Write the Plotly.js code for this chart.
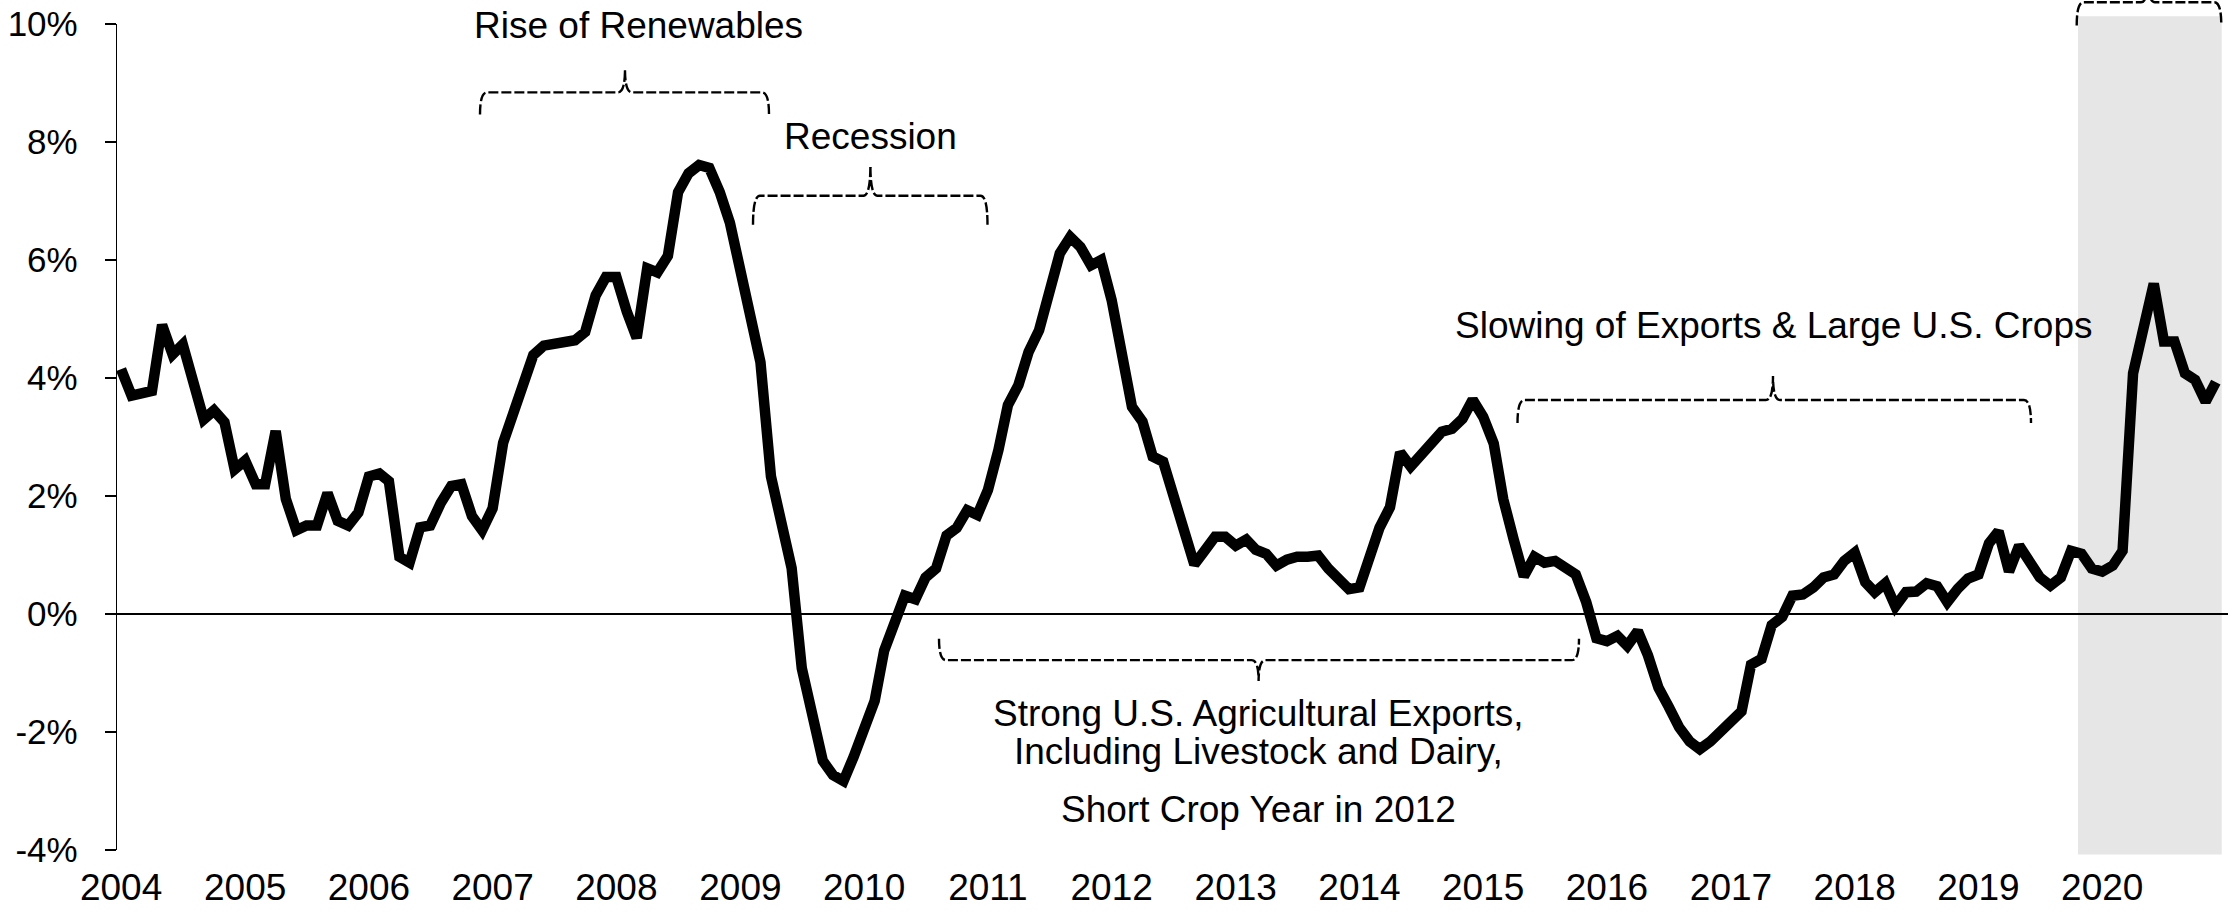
<!DOCTYPE html>
<html>
<head>
<meta charset="utf-8">
<script src="https://cdn.plot.ly/plotly-3.0.1.min.js"></script>
<style>
  html, body { margin: 0; padding: 0; background: #ffffff; }
  #chart { width: 2228px; height: 915px; }
</style>
</head>
<body>
<div id="chart"></div>
<script>
// ---- Data (monthly % change, Jan 2004 - Dec 2020) ----
const firstYear = 2004;
const lastYear = 2020;

const v2004 = [4.15, 3.70, 3.74, 3.78, 4.90, 4.40, 4.57, 3.95, 3.30, 3.45, 3.25, 2.45];
const v2005 = [2.60, 2.20, 2.20, 3.10, 1.95, 1.42, 1.50, 1.50, 2.05, 1.58, 1.50, 1.72];
const v2006 = [2.33, 2.38, 2.25, 0.97, 0.87, 1.47, 1.50, 1.88, 2.17, 2.20, 1.66, 1.42];
const v2007 = [1.79, 2.90, 3.39, 3.89, 4.39, 4.55, 4.57, 4.63, 4.64, 4.78, 5.40, 5.71];
const v2008 = [5.71, 5.12, 4.68, 5.86, 5.79, 6.07, 7.15, 7.47, 7.61, 7.56, 7.15, 6.63];
const v2009 = [5.80, 4.90, 4.27, 2.33, 1.55, 0.78, -0.92, -1.72, -2.49, -2.73, -2.83, -2.42];
const v2010 = [-1.92, -1.47, -0.62, -0.12, 0.31, 0.25, 0.62, 0.77, 1.33, 1.46, 1.76, 1.68];
const v2011 = [2.10, 2.78, 3.54, 3.88, 4.44, 4.81, 5.43, 6.11, 6.39, 6.22, 5.91, 6.00];
const v2012 = [5.32, 4.40, 3.51, 3.26, 2.67, 2.58, 2.00, 1.46, 0.84, 1.07, 1.31, 1.31];
const v2013 = [1.16, 1.26, 1.09, 1.02, 0.82, 0.92, 0.97, 0.97, 0.99, 0.77, 0.57, 0.42];
const v2014 = [0.45, 0.98, 1.46, 1.81, 2.74, 2.50, 2.70, 2.84, 3.09, 3.14, 3.31, 3.63];
const v2015 = [3.34, 2.89, 1.95, 1.26, 0.64, 0.97, 0.87, 0.90, 0.77, 0.67, 0.20, -0.41];
const v2016 = [-0.46, -0.37, -0.54, -0.29, -0.70, -1.25, -1.57, -1.92, -2.16, -2.29, -2.16, -1.99];
const v2017 = [-1.87, -1.65, -0.86, -0.76, -0.19, -0.05, 0.31, 0.33, 0.45, 0.62, 0.67, 0.90];
const v2018 = [1.04, 0.54, 0.37, 0.52, 0.13, 0.37, 0.38, 0.52, 0.47, 0.20, 0.43, 0.60];
const v2019 = [0.67, 1.20, 1.40, 0.72, 1.16, 0.92, 0.62, 0.48, 0.62, 1.07, 1.02, 0.77];
const v2020 = [0.72, 0.82, 1.07, 4.08, 4.85, 5.60, 4.62, 4.62, 4.08, 3.97, 3.60, 3.93];

const yearlyValues = [v2004, v2005, v2006, v2007, v2008, v2009, v2010, v2011, v2012,
                      v2013, v2014, v2015, v2016, v2017, v2018, v2019, v2020];

// y tick values and labels
const yTickVals = [-4, -2, 0, 2, 4, 6, 8, 10];
const yTickText = ['-4%', '-2%', '0%', '2%', '4%', '6%', '8%', '10%'];

// annotation texts
const labelRise = 'Rise of Renewables';
const labelRecession = 'Recession';
const labelSlowing = 'Slowing of Exports &amp; Large U.S. Crops';
const labelStrong1 = 'Strong U.S. Agricultural Exports,';
const labelStrong2 = 'Including Livestock and Dairy,';
const labelStrong3 = 'Short Crop Year in 2012';

// ---- Build series ----
const months = [];
const values = [];
for (let y = firstYear; y <= lastYear; y++) {
  const row = yearlyValues[y - firstYear];
  for (let m = 0; m < 12; m++) {
    months.push(y + '-' + String(m + 1).padStart(2, '0') + '-01');
    values.push(row[m]);
  }
}

// ---- Layout geometry (pixels) ----
const W = 2228, H = 915;
const ML = 117, MR = 0, MT = 23.5, MB = 64.5;
const PW = W - ML - MR, PH = H - MT - MB;
const px = x => (x - ML) / PW;           // pixel x -> paper
const py = y => (H - MB - y) / PH;       // pixel y -> paper

function brace(x1, x2, xm, yEnd, yH, yTip) {
  const r = 7;
  const p = (x, y) => px(x).toFixed(5) + ',' + py(y).toFixed(5);
  return 'M' + p(x1, yEnd) +
    ' Q' + p(x1, yH) + ' ' + p(x1 + r, yH) +
    ' L' + p(xm - r, yH) +
    ' Q' + p(xm, yH) + ' ' + p(xm, yTip) +
    ' Q' + p(xm, yH) + ' ' + p(xm + r, yH) +
    ' L' + p(x2 - r, yH) +
    ' Q' + p(x2, yH) + ' ' + p(x2, yEnd);
}

const dashLine = { color: '#000000', width: 2.4, dash: '10px,3px' };

const shapes = [
  { type: 'rect', xref: 'paper', yref: 'paper', layer: 'below',
    x0: px(2078), x1: px(2221.7), y0: py(855), y1: py(15.7),
    fillcolor: '#e6e6e6', line: { width: 0 } },
  { type: 'path', xref: 'paper', yref: 'paper', path: brace(480, 769, 625, 114, 92, 69), line: dashLine },
  { type: 'path', xref: 'paper', yref: 'paper', path: brace(753, 987.5, 870.4, 224.6, 195.4, 165), line: dashLine },
  { type: 'path', xref: 'paper', yref: 'paper', path: brace(1517.5, 2031, 1773, 423, 400, 376), line: dashLine },
  { type: 'path', xref: 'paper', yref: 'paper', path: brace(939, 1579, 1258.6, 639, 660.4, 681.4), line: dashLine },
  { type: 'path', xref: 'paper', yref: 'paper', path: brace(2076.7, 2221.3, 2148, 25, 1.7, -22), line: dashLine }
];

const annFont = { family: 'Liberation Sans, Arial, sans-serif', size: 37, color: '#000000' };
function ann(text, x, y) {
  return { text: text, xref: 'paper', yref: 'paper', x: px(x), y: py(y),
           xanchor: 'center', yanchor: 'middle', showarrow: false, font: annFont };
}
const annotations = [
  ann(labelRise, 638, 25),
  ann(labelRecession, 870, 136.5),
  ann(labelSlowing, 1773.5, 325),
  ann(labelStrong1, 1258, 714),
  ann(labelStrong2, 1258, 752),
  ann(labelStrong3, 1258, 810)
];

const trace = {
  x: months,
  y: values,
  type: 'scatter',
  mode: 'lines',
  line: { color: '#000000', width: 10.5 },
  hoverinfo: 'skip'
};

const layout = {
  width: W, height: H,
  margin: { l: ML, r: MR, t: MT, b: MB, pad: 0 },
  paper_bgcolor: '#ffffff',
  plot_bgcolor: 'rgba(0,0,0,0)',
  showlegend: false,
  font: { family: 'Liberation Sans, Arial, sans-serif', color: '#000000' },
  xaxis: {
    type: 'date',
    range: ['2003-12-20', '2021-01-06'],
    tick0: '2004-01-01',
    dtick: 'M12',
    tickformat: '%Y',
    ticks: '',
    showline: false,
    showgrid: false,
    zeroline: false,
    ticklabelstandoff: 12,
    tickfont: { size: 37, color: '#000000' }
  },
  yaxis: {
    range: [-4, 10],
    tickmode: 'array',
    tickvals: yTickVals,
    ticktext: yTickText,
    ticks: 'outside',
    ticklen: 11,
    tickwidth: 1.3,
    tickcolor: '#000000',
    showline: true,
    linecolor: '#000000',
    linewidth: 1.3,
    showgrid: false,
    zeroline: true,
    zerolinecolor: '#000000',
    zerolinewidth: 1.3,
    ticklabelstandoff: 20,
    tickfont: { size: 35, color: '#000000' }
  },
  shapes: shapes,
  annotations: annotations
};

Plotly.newPlot('chart', [trace], layout, { staticPlot: true, displayModeBar: false });
</script>
</body>
</html>
